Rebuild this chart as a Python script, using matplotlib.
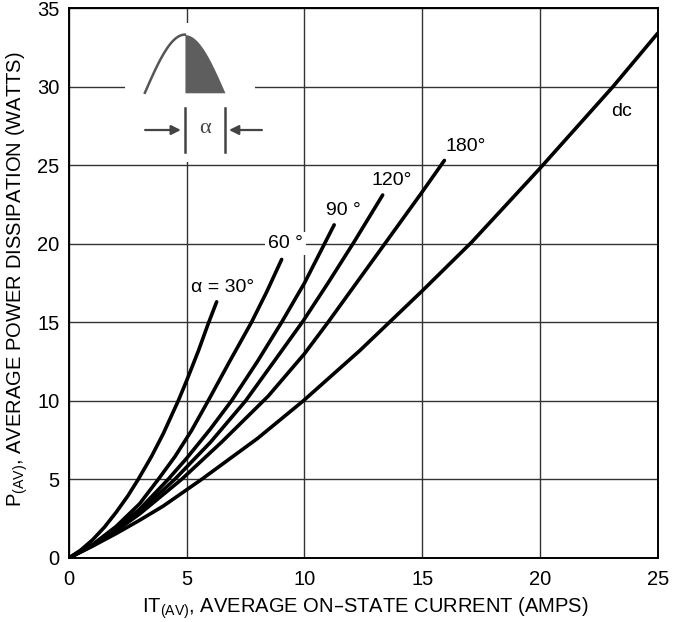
import matplotlib
matplotlib.use('Agg')
import matplotlib.pyplot as plt
import numpy as np

plt.rcParams['font.family'] = ['Liberation Sans', 'DejaVu Sans']

# average on-state current (A) vs average power dissipation (W)
i_30 = [0, 0.5, 1, 1.5, 2, 2.5, 2.94, 3.5, 4.0, 4.64, 5.0, 5.5, 5.91, 6.27]
p_30 = [0, 0.5, 1.15, 1.95, 2.9, 3.95, 5.0, 6.45, 7.9, 10.0, 11.3, 13.2, 14.9, 16.3]

i_60 = [0, 1, 2, 3, 3.79, 4.5, 5.2, 5.91, 6.8, 7.75, 8.4, 9.03]
p_60 = [0, 0.85, 2.0, 3.45, 5.0, 6.45, 8.1, 10.0, 12.45, 15.0, 16.95, 19.0]

i_90 = [0, 1, 2, 3, 4.21, 5.0, 6.0, 6.9, 8.0, 9.03, 10.0, 11.26]
p_90 = [0, 0.82, 1.85, 3.1, 5.0, 6.35, 8.2, 10.0, 12.5, 15.0, 17.5, 21.2]

i_120 = [0, 1, 2, 3, 4.49, 6.0, 7.5, 8.8, 9.95, 11.0, 12.1, 13.32]
p_120 = [0, 0.8, 1.75, 2.95, 5.0, 7.35, 10.0, 12.7, 15.1, 17.5, 20.1, 23.1]

i_180 = [0, 1, 2, 3, 4.78, 6.5, 8.46, 10.0, 11.0, 12.35, 13.46, 15.0, 15.94]
p_180 = [0, 0.78, 1.72, 2.8, 5.0, 7.4, 10.3, 13.0, 15.0, 17.8, 20.1, 23.3, 25.3]

i_dc = [0, 1, 2, 3, 4, 5.63, 8.0, 9.95, 12.35, 15.0, 17.1, 20.0, 23.1, 25.0]
p_dc = [0, 0.75, 1.55, 2.4, 3.3, 5.0, 7.6, 10.0, 13.2, 17.0, 20.1, 24.8, 30.0, 33.4]

curves = [(i_30, p_30), (i_60, p_60), (i_90, p_90), (i_120, p_120), (i_180, p_180), (i_dc, p_dc)]
labels = ['\u03b1 = 30\u00b0', '60 \u00b0', '90 \u00b0', '120\u00b0', '180\u00b0', 'dc']
label_pos = [(5.2, 17.2), (8.45, 20.0), (10.9, 22.1), (12.85, 24.0), (16.0, 26.2), (23.0, 28.4)]

fig = plt.figure(figsize=(6.83, 6.22), dpi=100)
ax = fig.add_axes([0.101, 0.103, 0.862, 0.884])

for i, p in curves:
    ax.plot(i, p, color='black', lw=2.6, solid_capstyle='round', solid_joinstyle='round', zorder=3)

for txt, (x, y) in zip(labels, label_pos):
    ax.text(x, y, txt, fontsize=14, ha='left', va='center', zorder=4,
            bbox=dict(boxstyle='square,pad=0.15', fc='white', ec='none'))

ax.set_xlim(0, 25)
ax.set_ylim(0, 35)
ax.set_xticks(np.arange(0, 26, 5))
ax.set_yticks(np.arange(0, 36, 5))
ax.grid(True, color='#333333', lw=1.0)
ax.set_axisbelow(True)
ax.tick_params(length=0, labelsize=14.5, pad=7)
ax.tick_params(axis='x', pad=9)
for s in ax.spines.values():
    s.set_linewidth(1.4)

ax.set_xlabel('IT$_{\\mathregular{(AV)}}$, AVERAGE ON\u2013STATE CURRENT (AMPS)', fontsize=14.5)
ax.set_ylabel('P$_{\\mathregular{(AV)}}$, AVERAGE POWER DISSIPATION (WATTS)', fontsize=14.5)
ax.xaxis.set_label_coords(0.504, -0.069)
ax.yaxis.set_label_coords(-0.066, 0.507)

# waveform inset
ins = fig.add_axes([125 / 683, 1 - 162 / 622, 130 / 683, 139 / 622])
ins.set_xlim(-0.78, 4.32)
ins.set_ylim(-1.19, 1.2)
for s in ins.spines.values():
    s.set_visible(False)
ins.set_xticks([])
ins.set_yticks([])
th = np.linspace(0, np.pi / 2, 60)
ins.plot(th, np.sin(th), color='#555555', lw=1.8)
th2 = np.linspace(np.pi / 2, np.pi, 60)
ins.fill_between(th2, 0, np.sin(th2), color='#5e5e5e', lw=0)
for xv in [np.pi / 2, np.pi]:
    ins.plot([xv, xv], [-0.26, -1.02], color='#444444', lw=1.8)
ins.annotate('', xy=(np.pi / 2 - 0.05, -0.64), xytext=(-0.1, -0.64),
             arrowprops=dict(arrowstyle='-|>', color='#444444', lw=1.6, mutation_scale=14),
             annotation_clip=False)
ins.annotate('', xy=(np.pi + 0.05, -0.64), xytext=(4.7, -0.64),
             arrowprops=dict(arrowstyle='-|>', color='#444444', lw=1.6, mutation_scale=14),
             annotation_clip=False)
ins.text(3 * np.pi / 4, -0.62, '\u03b1', fontsize=16, color='#444444', ha='center', va='center',
         family='Liberation Serif')

fig.savefig('out.png', dpi=100)
